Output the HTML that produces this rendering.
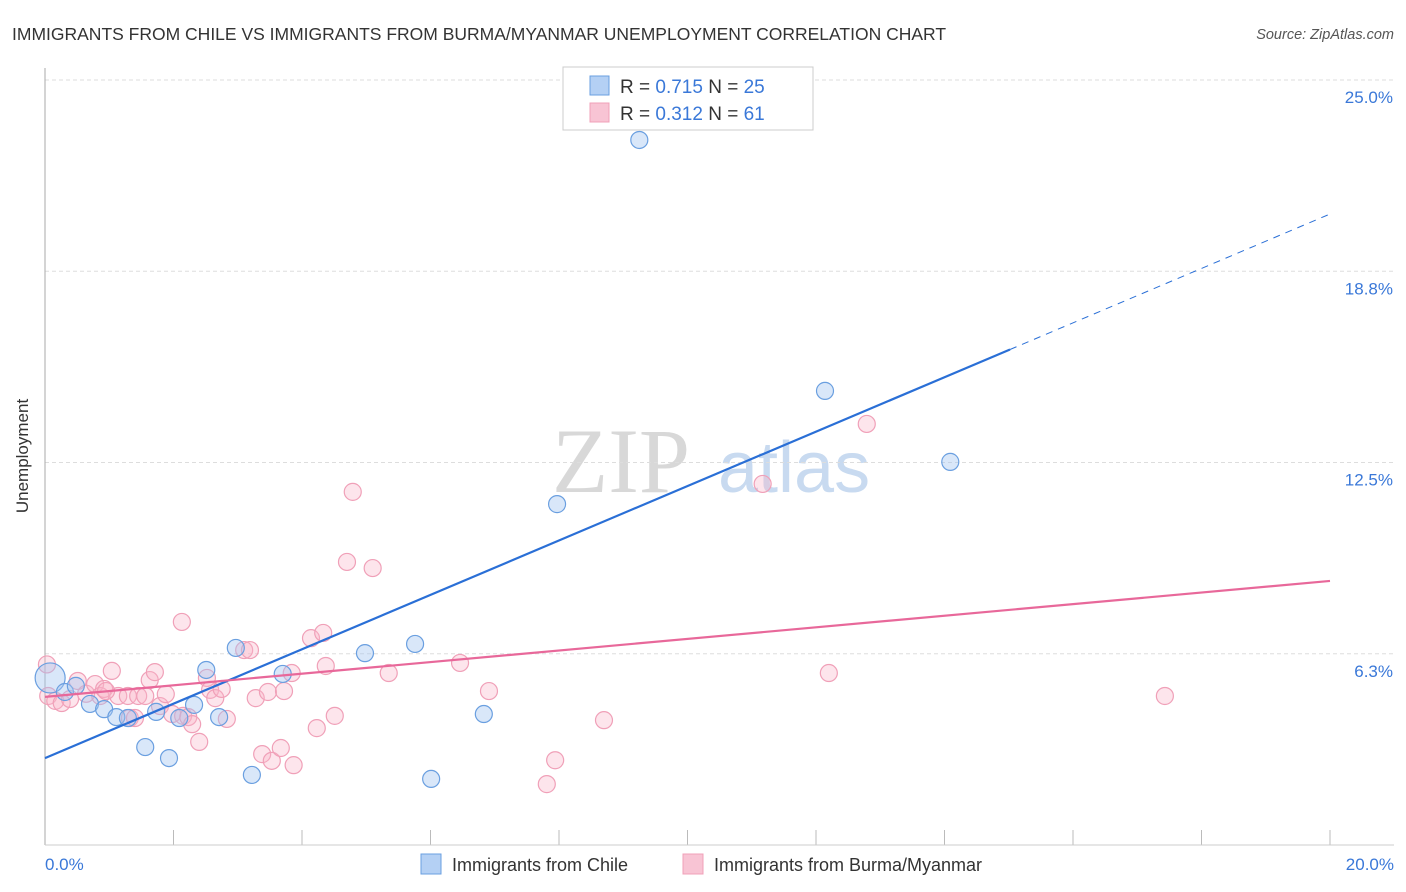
<!DOCTYPE html>
<html><head><meta charset="utf-8"><style>
body{margin:0;background:#fff;font-family:"Liberation Sans",sans-serif}
svg{display:block}
</style></head><body>
<svg width="1406" height="892" viewBox="0 0 1406 892">
<text x="12" y="40" font-size="17.5" fill="#333">IMMIGRANTS FROM CHILE VS IMMIGRANTS FROM BURMA/MYANMAR UNEMPLOYMENT CORRELATION CHART</text>
<text x="1394" y="39" font-size="14.5" fill="#555" font-style="italic" text-anchor="end">Source: ZipAtlas.com</text>
<g><text x="552" y="492" font-size="92" font-family="Liberation Serif,serif" fill="#d8d8d8">ZIP</text><text x="718" y="492" font-size="72" fill="#c8daf0">atlas</text></g>
<g id="grid"></g>
<line x1="45" y1="68" x2="45" y2="845" stroke="#aaa"/>
<line x1="45" y1="845" x2="1394" y2="845" stroke="#ccc"/>
<text x="28" y="456" font-size="17" fill="#333" text-anchor="middle" transform="rotate(-90 28 456)">Unemployment</text>
<text x="45" y="870" font-size="17" fill="#3a78d8">0.0%</text>
<text x="1394" y="870" font-size="17" fill="#3a78d8" text-anchor="end">20.0%</text>
<g id="marks"></g>
<g>
<rect x="563" y="67" width="250" height="63" fill="#fff" stroke="#ccc"/>
<rect x="590" y="76" width="19" height="19" fill="#b4d0f4" stroke="#6a9fe0"/>
<rect x="590" y="103" width="19" height="19" fill="#f8c4d4" stroke="#f0a0b8"/>
<text x="620" y="93" font-size="19" fill="#333">R = <tspan fill="#3a78d8">0.715</tspan>   N = <tspan fill="#3a78d8">25</tspan></text>
<text x="620" y="120" font-size="19" fill="#333">R = <tspan fill="#3a78d8">0.312</tspan>   N =  <tspan fill="#3a78d8">61</tspan></text>
</g>
<g>
<rect x="421" y="854" width="20" height="20" fill="#b4d0f4" stroke="#6a9fe0"/>
<text x="452" y="871" font-size="18" fill="#333">Immigrants from Chile</text>
<rect x="683" y="854" width="20" height="20" fill="#f8c4d4" stroke="#f0a0b8"/>
<text x="714" y="871" font-size="18" fill="#333">Immigrants from Burma/Myanmar</text>
</g>
</svg>
<script>
const yTicks=[25,18.75,12.5,6.25];
const yTickLabels=["25.0%","18.8%","12.5%","6.3%"];
const xTicks=[0,2,4,6,8,10,12,14,16,18,20];
const chileX=[0.08,0.31,0.48,0.70,0.92,1.11,1.29,1.56,1.73,1.93,2.09,2.32,2.51,2.71,2.97,3.22,3.70,4.98,5.76,6.01,6.83,7.97,9.25,12.14,14.09];
const chileY=[5.46,5.0,5.2,4.61,4.44,4.18,4.15,3.2,4.35,2.84,4.15,4.58,5.72,4.18,6.44,2.29,5.59,6.27,6.57,2.16,4.28,11.14,23.04,14.84,12.52];
const burmaX=[0.05,0.16,0.26,0.39,0.51,0.64,0.78,0.86,0.92,1.04,1.14,1.29,1.32,1.45,1.56,1.63,1.71,1.79,1.88,1.98,2.13,2.15,2.23,2.29,2.40,2.52,2.57,2.65,2.75,2.83,3.10,3.19,3.28,3.38,3.47,3.53,3.67,3.72,3.84,3.87,4.14,4.23,4.33,4.37,4.51,4.70,4.79,5.10,5.35,6.46,6.91,7.81,7.94,8.70,11.17,12.20,12.79,17.43,0.95,1.40,0.03];
const burmaY=[4.87,4.71,4.64,4.77,5.36,4.94,5.26,4.87,5.10,5.69,4.87,4.87,4.15,4.87,4.87,5.39,5.65,4.54,4.93,4.28,7.29,4.22,4.18,3.95,3.37,5.46,5.07,4.80,5.10,4.12,6.37,6.37,4.80,2.97,5.0,2.75,3.17,5.03,5.62,2.61,6.76,3.82,6.93,5.85,4.22,9.25,11.54,9.05,5.62,5.95,5.03,1.99,2.77,4.08,11.80,5.62,13.76,4.87,5.03,4.15,5.9];
const chileLine=[2.84,20.62], chileSolidEnd=15.02;
const burmaLine=[4.84,8.63];
const sx=v=>45+v*64.25, sy=v=>80+(25-v)*30.6;
const NS='http://www.w3.org/2000/svg';
function mk(t,a,p){const e=document.createElementNS(NS,t);for(const k in a)e.setAttribute(k,a[k]);p.appendChild(e);return e;}
const grid=document.getElementById('grid'), marks=document.getElementById('marks');
yTicks.forEach((v,i)=>{
 const l=mk('line',{x1:45,x2:1394,y1:sy(v),y2:sy(v),stroke:'#ddd','stroke-dasharray':'4,3'},grid);
 
 
 const t=mk('text',{x:1393,y:sy(v)+23,'font-size':17,fill:'#3a78d8','text-anchor':'end'},grid);t.textContent=yTickLabels[i];
 
 
});
xTicks.forEach(v=>{
 const l=mk('line',{x1:sx(v),x2:sx(v),y1:830,y2:845,stroke:'#bbb'},grid);
 
 
});
burmaX.forEach((x,i)=>{
 const c=mk('circle',{cx:sx(x),cy:sy(burmaY[i]),r:8.5,fill:'rgba(248,180,200,0.35)',stroke:'#f0a0b8','stroke-width':1.2},marks);
 
 
});
chileX.forEach((x,i)=>{
 const c=mk('circle',{cx:sx(x),cy:sy(chileY[i]),r:i===0?15:8.5,fill:'rgba(160,196,240,0.4)',stroke:'#6a9fe0','stroke-width':1.2},marks);
 
 
});
const cy=x=>chileLine[0]+(chileLine[1]-chileLine[0])*x/20;
let l=mk('line',{x1:sx(0),y1:sy(cy(0)),x2:sx(chileSolidEnd),y2:sy(cy(chileSolidEnd)),stroke:'#2a6fd6','stroke-width':2.2},marks);


l=mk('line',{x1:sx(chileSolidEnd),y1:sy(cy(chileSolidEnd)),x2:sx(20),y2:sy(cy(20)),stroke:'#2a6fd6','stroke-width':1,'stroke-dasharray':'7,6'},marks);


l=mk('line',{x1:sx(0),y1:sy(burmaLine[0]),x2:sx(20),y2:sy(burmaLine[1]),stroke:'#e8689a','stroke-width':2.2},marks);


</script>
</body></html>
